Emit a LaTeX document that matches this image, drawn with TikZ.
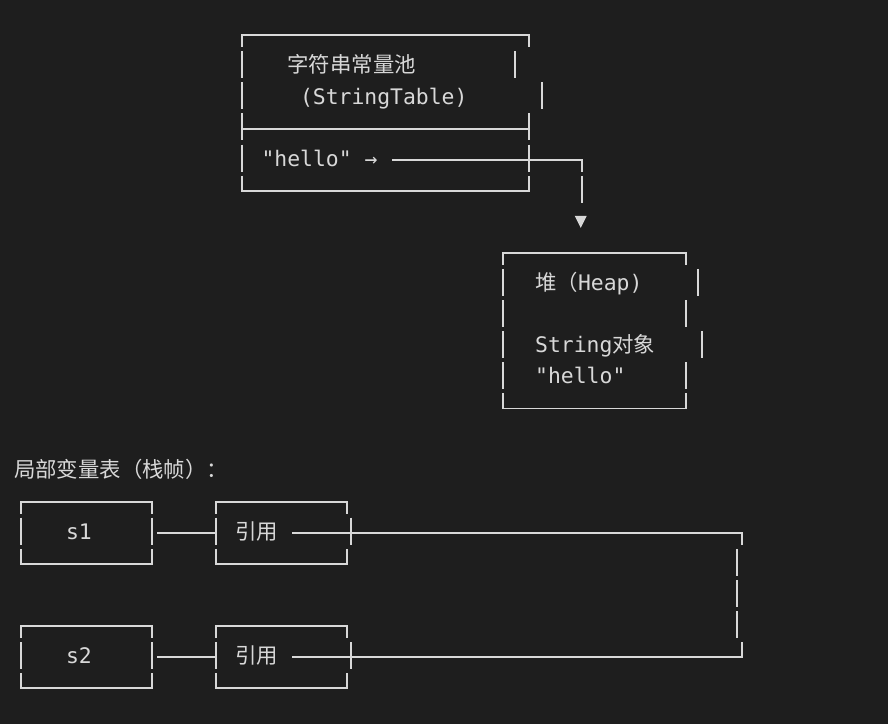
\documentclass[tikz,border=0pt]{standalone}
\usepackage{fontspec}
\setmonofont{DejaVu Sans Mono}
\newfontfamily\cjk{Noto Sans CJK SC}
\definecolor{bgc}{HTML}{1E1E1E}
\definecolor{fgc}{HTML}{D8D8D8}
\newcommand\myrow[1]{35.3+31.1*(#1)}
\newcommand\myvb[2]{\draw[ln] (#1,{\myrow{#2}-15.2}) -- (#1,{\myrow{#2}+11.8});}
\newcommand\mytop[3]{\draw[ln] (#1,{\myrow{#3}+11.8}) -- (#1,{\myrow{#3}}) -- (#2,{\myrow{#3}}) -- (#2,{\myrow{#3}+11.8});}
\newcommand\mybot[3]{\draw[ln] (#1,{\myrow{#3}-15.2}) -- (#1,{\myrow{#3}}) -- (#2,{\myrow{#3}}) -- (#2,{\myrow{#3}-15.2});}
\newcommand\myhl[3]{\draw[ln] (#1,{\myrow{#3}}) -- (#2,{\myrow{#3}});}
\begin{document}
\begin{tikzpicture}[x=1pt,y=-1pt,
  ln/.style={draw=fgc,line width=1.9pt,line join=miter},
  txt/.style={anchor=base west,inner sep=0pt,outer sep=0pt,text=fgc,
    font=\ttfamily\fontsize{21.4}{25}\selectfont}]
\fill[bgc] (0,0) rectangle (888,724);
\useasboundingbox (0,0) rectangle (888,724);

% ---------- string table box ----------
\mytop{242}{529}{0}
\myvb{242}{1}\myvb{515.3}{1}
\myvb{242}{2}\myvb{542}{2}
\myvb{242}{3}\myvb{529}{3}\myhl{242}{529}{3}
\myvb{242}{4}\myvb{529}{4}
\mybot{242}{529}{5}
\node[txt] (pool) at (287.5,{\myrow{1}+6.5}) {\cjk 字符串常量池};
\node[txt] (strtab) at (300,{\myrow{2}+6.5}) {(StringTable)};
\node[txt] (hello) at (261.5,{\myrow{4}+6.5}) {"hello" →};

% connector to heap
\coordinate (c1a) at (392.3,{\myrow{4}});
\coordinate (c1b) at (581.7,{\myrow{4}});
\coordinate (c1c) at (581.7,{\myrow{4}+11.8});
\draw[ln] (c1a) -- (c1b) -- (c1c);
\myvb{581.7}{5}
\coordinate (tip) at (580.7,{\myrow{6}+6});
\fill[fgc] (tip) -- ++(-6,-12) -- ++(12,0) -- cycle;

% ---------- heap box ----------
\mytop{502.7}{685.7}{7}
\myvb{502.7}{8}\myvb{697.7}{8}
\myvb{502.7}{9}\myvb{685.7}{9}
\myvb{502.7}{10}\myvb{702}{10}
\myvb{502.7}{11}\myvb{685.7}{11}
\mybot{502.7}{685.7}{12}
\node[txt] (heap) at (535.2,{\myrow{8}+6.5}) {{\cjk 堆（}Heap)};
\node[txt] (strobj) at (535.2,{\myrow{10}+6.5}) {String{\cjk 对象}};
\node[txt] (hhello) at (535.2,{\myrow{11}+6.5}) {"hello"};

% ---------- local variable table ----------
\node[txt] (label) at (14,{\myrow{14}+6.5}) {\cjk 局部变量表（栈帧）：};

% s1 row
\mytop{20.7}{151.7}{15}\mytop{215.7}{347.3}{15}
\myvb{20.7}{16}\myvb{151.7}{16}\myvb{215.7}{16}\myvb{350.7}{16}
\mybot{20.7}{151.7}{17}\mybot{215.7}{347.3}{17}
\node[txt] (s1) at (66,{\myrow{16}+6.5}) {s1};
\node[txt] (ref1) at (235.5,{\myrow{16}+6.5}) {\cjk 引用};
\coordinate (a1) at (157.3,{\myrow{16}});
\coordinate (b1) at (215.7,{\myrow{16}});
\draw[ln] (a1) -- (b1);

% s2 row
\mytop{20.7}{151.7}{19}\mytop{215.7}{347.3}{19}
\myvb{20.7}{20}\myvb{151.7}{20}\myvb{215.7}{20}\myvb{350.7}{20}
\mybot{20.7}{151.7}{21}\mybot{215.7}{347.3}{21}
\node[txt] (s2) at (66,{\myrow{20}+6.5}) {s2};
\node[txt] (ref2) at (235.5,{\myrow{20}+6.5}) {\cjk 引用};
\coordinate (a2) at (157.3,{\myrow{20}});
\coordinate (b2) at (215.7,{\myrow{20}});
\draw[ln] (a2) -- (b2);

% right connector between the two references
\coordinate (r1a) at (292.3,{\myrow{16}});
\coordinate (r1b) at (741.7,{\myrow{16}});
\coordinate (r1c) at (741.7,{\myrow{16}+11.8});
\draw[ln] (r1a) -- (r1b) -- (r1c);
\myvb{737.3}{17}\myvb{737.3}{18}\myvb{737.3}{19}
\coordinate (r2c) at (741.7,{\myrow{20}-15.2});
\coordinate (r2b) at (741.7,{\myrow{20}});
\coordinate (r2a) at (292.3,{\myrow{20}});
\draw[ln] (r2c) -- (r2b) -- (r2a);
\end{tikzpicture}
\end{document}
